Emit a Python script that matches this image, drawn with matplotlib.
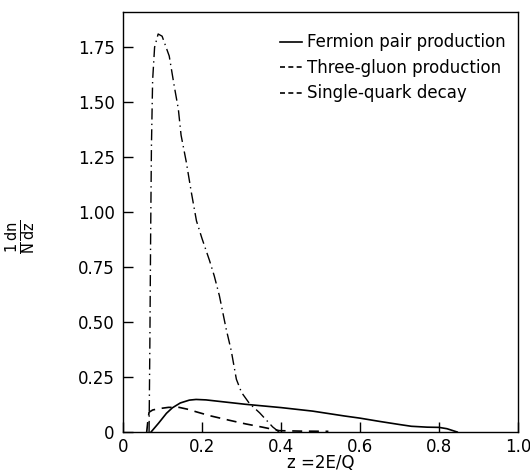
import matplotlib
matplotlib.use('Agg')
import matplotlib.pyplot as plt
from matplotlib.lines import Line2D

# fermion pair production (solid)
z_fermion = [0.071, 0.09, 0.11, 0.125, 0.145, 0.168, 0.185, 0.21, 0.25, 0.31, 0.4, 0.48, 0.56, 0.6, 0.65, 0.7, 0.73, 0.77, 0.80, 0.82, 0.846]
v_fermion = [0.0, 0.04, 0.085, 0.11, 0.132, 0.145, 0.148, 0.146, 0.138, 0.126, 0.111, 0.095, 0.073, 0.063, 0.048, 0.034, 0.026, 0.022, 0.021, 0.015, 0.0]

# three-gluon production (dashed)
z_gluon = [0.06, 0.063, 0.066, 0.075, 0.09, 0.115, 0.142, 0.165, 0.185, 0.22, 0.27, 0.31, 0.353, 0.38, 0.396, 0.45, 0.52]
v_gluon = [0.0, 0.05, 0.09, 0.1, 0.106, 0.112, 0.112, 0.103, 0.092, 0.074, 0.053, 0.037, 0.022, 0.012, 0.006, 0.004, 0.003]

# single-quark decay (dash-dot)
z_single = [0.066, 0.068, 0.07, 0.072, 0.075, 0.08, 0.089, 0.099, 0.117, 0.13, 0.14, 0.147, 0.16, 0.173, 0.186, 0.2, 0.219, 0.231, 0.244, 0.261, 0.274, 0.287, 0.3, 0.32, 0.346, 0.379, 0.395]
v_single = [0.0, 0.4, 0.9, 1.3, 1.6, 1.75, 1.81, 1.80, 1.71, 1.57, 1.47, 1.35, 1.23, 1.09, 0.96, 0.88, 0.78, 0.71, 0.62, 0.47, 0.37, 0.24, 0.18, 0.13, 0.087, 0.023, 0.0]

x_ticks = [0, 0.2, 0.4, 0.6, 0.8, 1.0]
x_labels = ['0', '0.2', '0.4', '0.6', '0.8', '1.0']
y_ticks = [0, 0.25, 0.5, 0.75, 1.0, 1.25, 1.5, 1.75]
y_labels = ['0', '0.25', '0.50', '0.75', '1.00', '1.25', '1.50', '1.75']

plt.rcParams['font.family'] = ['DejaVu Sans']
plt.rcParams['mathtext.fontset'] = 'dejavusans'
fig = plt.figure(figsize=(5.3, 4.74), dpi=100)
ax = fig.add_axes([123 / 530, 42 / 474, 395 / 530, 420 / 474])

ax.plot(z_fermion, v_fermion, color='black', lw=1.2, ls='-')
ax.plot(z_gluon, v_gluon, color='black', lw=1.2, ls=(0, (6, 4)))
ax.plot(z_single, v_single, color='black', lw=1.0, ls=(0, (8, 3, 1, 3)))

ax.set_xlim(0, 1.0)
ax.set_ylim(0, 1.91)
ax.set_xticks(x_ticks)
ax.set_xticklabels(x_labels)
ax.set_yticks(y_ticks)
ax.set_yticklabels(y_labels)
ax.tick_params(direction='in', length=7, width=1, labelsize=12)
ax.tick_params(axis='x', pad=4)
ax.tick_params(axis='y', pad=6)
for s in ax.spines.values():
    s.set_linewidth(1.0)

ax.set_xlabel('z =2E/Q', fontsize=12, labelpad=-1)
fig.text(0.04, 0.5, r'$\mathrm{\frac{1}{N}\frac{dn}{dz}}$', rotation=90, fontsize=15,
         ha='center', va='center')

handles = [Line2D([], [], color='black', lw=1.2, ls='-'),
           Line2D([], [], color='black', lw=1.2, ls=(0, (3, 2))),
           Line2D([], [], color='black', lw=1.2, ls=(0, (3, 2)))]
ax.legend(handles, ['Fermion pair production', 'Three-gluon production', 'Single-quark decay'],
          loc='upper right', frameon=False, fontsize=12, handlelength=1.3,
          handletextpad=0.3, labelspacing=0.45, borderaxespad=0.0,
          bbox_to_anchor=(0.985, 0.965))

fig.savefig('out.png', dpi=100)
